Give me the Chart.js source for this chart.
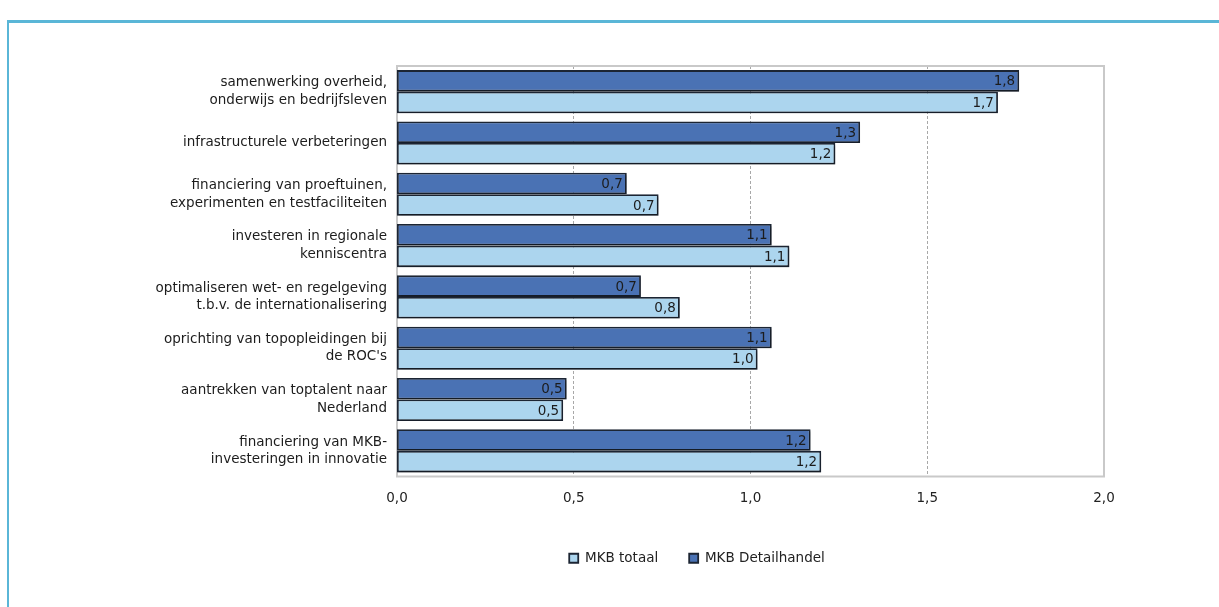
<!DOCTYPE html>
<html lang="nl">
<head>
    <meta charset="UTF-8">
    <title>MKB totaal en MKB Detailhandel</title>
    <script src="https://cdn.jsdelivr.net/npm/chart.js"></script>
    <style>
        body {
            margin: 0;
            background: #ffffff;
            font-family: "DejaVu Sans", Verdana, sans-serif;
        }
        .frame {
            position: absolute;
            left: 7px;
            top: 20px;
            width: 1212px;
            height: 587px;
            border-top: 3px solid #5ab6d7;
            border-left: 2px solid #5ab6d7;
        }
        .wrap {
            position: absolute;
            left: 0;
            top: 0;
            width: 1219px;
            height: 607px;
        }
    </style>
</head>
<body>
    <div class="frame"></div>
    <div class="wrap"><canvas id="chart" width="1219" height="607"></canvas></div>

    <script>
        // categorieen (van boven naar beneden)
        const categories = [
            ['samenwerking overheid,', 'onderwijs en bedrijfsleven'],
            'infrastructurele verbeteringen',
            ['financiering van proeftuinen,', 'experimenten en testfaciliteiten'],
            ['investeren in regionale', 'kenniscentra'],
            ['optimaliseren wet- en regelgeving', 't.b.v. de internationalisering'],
            ['oprichting van topopleidingen bij', "de ROC's"],
            ['aantrekken van toptalent naar', 'Nederland'],
            ['financiering van MKB-', 'investeringen in innovatie']
        ];
        const mkbDetailhandel = [1.76, 1.31, 0.65, 1.06, 0.69, 1.06, 0.48, 1.17];
        const mkbTotaal = [1.70, 1.24, 0.74, 1.11, 0.80, 1.02, 0.47, 1.20];
        const xTicks = [0, 0.5, 1.0, 1.5, 2.0];

        const fmt = v => v.toFixed(1).replace('.', ',');
        const FONT = 13.5;

        // grijze rand om het plotgebied
        const areaBorder = {
            id: 'areaBorder',
            beforeDatasetsDraw(chart) {
                const a = chart.chartArea;
                const ctx = chart.ctx;
                ctx.save();
                ctx.strokeStyle = '#c9c9c9';
                ctx.lineWidth = 2;
                ctx.strokeRect(a.left, a.top, a.right - a.left, a.bottom - a.top);
                ctx.restore();
            }
        };

        // lichte schaduw onder de balken
        const barShadow = {
            id: 'barShadow',
            beforeDatasetsDraw(chart) {
                const ctx = chart.ctx;
                ctx.save();
                ctx.shadowColor = 'rgba(0,0,0,0.28)';
                ctx.shadowOffsetX = 1;
                ctx.shadowOffsetY = 2;
                ctx.shadowBlur = 2;
            },
            afterDatasetsDraw(chart) {
                chart.ctx.restore();
            }
        };

        // waarden in het einde van de balk
        const barValues = {
            id: 'barValues',
            afterDatasetsDraw(chart) {
                const ctx = chart.ctx;
                ctx.save();
                ctx.font = FONT + 'px "DejaVu Sans"';
                ctx.fillStyle = '#1c1c1c';
                ctx.textAlign = 'right';
                ctx.textBaseline = 'middle';
                chart.data.datasets.forEach((ds, i) => {
                    chart.getDatasetMeta(i).data.forEach((bar, j) => {
                        ctx.fillText(fmt(ds.data[j]), bar.x - 4, bar.y + 1);
                    });
                });
                ctx.restore();
            }
        };

        // legenda iets naar rechts, zoals in het origineel
        const legendShift = {
            id: 'legendShift',
            afterLayout(chart) {
                if (chart.legend) chart.legend.left += 290;
            }
        };

        new Chart(document.getElementById('chart'), {
            type: 'bar',
            data: {
                labels: categories,
                datasets: [
                    {
                        label: 'MKB Detailhandel',
                        data: mkbDetailhandel,
                        backgroundColor: '#4a72b4',
                        borderColor: '#1c2533',
                        borderWidth: 1.8,
                        borderSkipped: false
                    },
                    {
                        label: 'MKB totaal',
                        data: mkbTotaal,
                        backgroundColor: '#acd5ee',
                        borderColor: '#1c2533',
                        borderWidth: 1.8,
                        borderSkipped: false
                    }
                ]
            },
            options: {
                indexAxis: 'y',
                responsive: false,
                animation: false,
                categoryPercentage: 0.84,
                barPercentage: 1.0,
                layout: {
                    padding: { top: 66, right: 115, left: 0, bottom: 32 }
                },
                scales: {
                    x: {
                        min: 0,
                        max: 2,
                        afterBuildTicks: s => { s.ticks = xTicks.map(v => ({ value: v })); },
                        afterFit: s => { s.height = 44; },
                        grid: {
                            drawTicks: false,
                            color: '#a8a8a8',
                            lineWidth: ctx => (ctx.tick && (ctx.tick.value === 0 || ctx.tick.value === 2)) ? 0 : 1,
                        },
                        border: { display: false, dash: [3, 2] },
                        ticks: {
                            padding: 14,
                            color: '#222',
                            font: { family: 'DejaVu Sans', size: FONT },
                            callback: v => fmt(v)
                        }
                    },
                    y: {
                        afterFit: s => { s.width = 397; },
                        grid: { display: false, drawTicks: false },
                        border: { display: false },
                        ticks: {
                            padding: 10,
                            color: '#1c1c1c',
                            font: { family: 'DejaVu Sans', size: FONT, lineHeight: 1.3 }
                        }
                    }
                },
                plugins: {
                    legend: {
                        position: 'bottom',
                        reverse: true,
                        labels: {
                            boxWidth: 9,
                            boxHeight: 9,
                            padding: 31,
                            color: '#222',
                            font: { family: 'DejaVu Sans', size: FONT }
                        }
                    },
                    tooltip: { enabled: false }
                }
            },
            plugins: [areaBorder, barShadow, barValues, legendShift]
        });
    </script>
</body>
</html>
